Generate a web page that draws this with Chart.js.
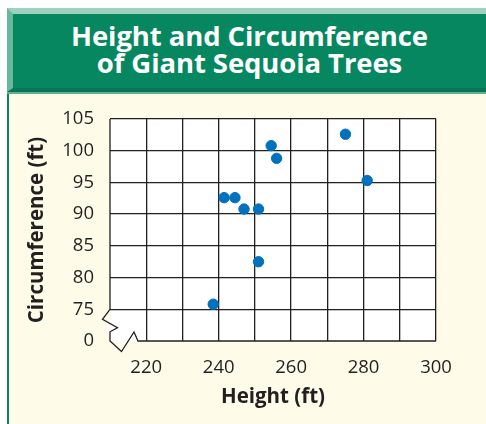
<!DOCTYPE html>
<html>
<head>
<meta charset="utf-8">
<script src="https://cdn.jsdelivr.net/npm/chart.js@4/dist/chart.umd.min.js"></script>
<style>
  html, body { margin: 0; padding: 0; background: #fff; }
  #page { position: relative; width: 486px; height: 424px; overflow: hidden; }
  #panel { position: absolute; left: 7px; top: 94px; right: 0; bottom: 0;
           background: #fffbe9; border-left: 2.5px solid #07875f; }
  #header { position: absolute; left: 7px; top: 8px; width: 473px; height: 74px;
            background: #06875f;
            border-top: 6px solid #9dd0bf; border-left: 6px solid #66b99b;
            border-bottom: 4px solid #0b7553; border-right: 0; }
  #header h1 { margin: 0; padding-top: 8px; font: bold 27.5px/27px "Open Sans", sans-serif;
               color: #fff; text-align: center; letter-spacing: -0.1px; }
  #headLine { position: absolute; left: 7px; top: 92px; width: 479px; height: 2px; background: #5fb394; }
  canvas { position: absolute; left: 0; top: 0; }
</style>
</head>
<body>
<div id="page">
  <div id="panel"></div>
  <div id="header"><h1>Height and Circumference<br>of Giant Sequoia Trees</h1></div>
  <div id="headLine"></div>
  <canvas id="sequoia" width="486" height="424"></canvas>
</div>
<script>
// tree measurements, in feet
const heights = [238.5, 241.5, 244.5, 247, 251, 251, 254.5, 256, 275, 281];
const circumferences = [75.8, 92.6, 92.6, 90.8, 90.8, 82.5, 100.8, 98.8, 102.6, 95.3];

// axis ranges; both axes are broken near the origin
const xMin = 210, xMax = 300, xStep = 10;
const yMin = 70, yMax = 105, yStep = 5;
const xLabelEvery = 20;
const yBreakValue = 75;

const ink = '#231f20';
const font = '"Open Sans", sans-serif';

const points = heights.map((h, i) => ({ x: h, y: circumferences[i] }));

// white plot background plus the axis lines with the zigzag breaks
const brokenAxes = {
    id: 'brokenAxes',
    beforeDraw(chart) {
        const { ctx, chartArea: a } = chart;
        ctx.save();
        ctx.fillStyle = '#fff';
        ctx.fillRect(a.left, a.top, a.right - a.left, a.bottom - a.top);
        ctx.restore();
    },
    beforeDatasetsDraw(chart) {
        const { ctx, chartArea: a, scales } = chart;
        const yb = scales.y.getPixelForValue(yBreakValue);
        const L = a.left, B = a.bottom;
        ctx.save();
        ctx.strokeStyle = ink;
        ctx.lineWidth = 1.3;
        ctx.beginPath();
        ctx.moveTo(L, a.top);
        ctx.lineTo(L, yb);
        ctx.lineTo(L - 7.5, yb + 10);
        ctx.lineTo(L + 7.5, yb + 18.5);
        ctx.lineTo(L, yb + 22.5);
        ctx.lineTo(L, B);
        ctx.lineTo(L + 11.5, B + 10.5);
        ctx.lineTo(L + 24, B - 9);
        ctx.lineTo(L + 28, B);
        ctx.lineTo(a.right, B);
        ctx.stroke();
        ctx.restore();
    }
};

new Chart(document.getElementById('sequoia'), {
    type: 'scatter',
    data: {
        datasets: [{
            data: points,
            backgroundColor: '#0071bc',
            borderColor: '#0071bc',
            pointRadius: 5.2,
            pointHoverRadius: 5.2
        }]
    },
    options: {
        responsive: false,
        animation: false,
        events: [],
        layout: { padding: { top: 119, right: 50, bottom: 10, left: 10 } },
        plugins: { legend: { display: false }, tooltip: { enabled: false } },
        scales: {
            x: {
                type: 'linear',
                min: xMin, max: xMax,
                afterFit(scale) { scale.height = 73; },
                border: { display: false },
                grid: {
                    drawTicks: false,
                    lineWidth: 1.3,
                    color: ctx => ctx.tick && ctx.tick.value === xMin ? 'rgba(0,0,0,0)' : ink
                },
                ticks: {
                    stepSize: xStep,
                    padding: 16,
                    maxRotation: 0,
                    minRotation: 0,
                    autoSkip: false,
                    color: ink,
                    font: { family: font, size: 18.5 },
                    callback: v => (v % xLabelEvery === 0 && v !== xMin) ? String(v) : ''
                },
                title: {
                    display: true,
                    text: 'Height (ft)',
                    color: ink,
                    padding: { top: 0, bottom: 5 },
                    font: { family: font, size: 20.5, weight: 'bold' }
                }
            },
            y: {
                type: 'linear',
                min: yMin, max: yMax,
                afterFit(scale) { scale.width = 100; },
                border: { display: false },
                grid: {
                    drawTicks: false,
                    lineWidth: 1.3,
                    color: ctx => ctx.tick && ctx.tick.value === yMin ? 'rgba(0,0,0,0)' : ink
                },
                ticks: {
                    stepSize: yStep,
                    padding: 16,
                    color: ink,
                    font: { family: font, size: 18.5 },
                    callback: v => v === yMin ? '0' : String(v)
                },
                title: {
                    display: true,
                    text: 'Circumference (ft)',
                    color: ink,
                    padding: { top: 14.5, bottom: 0 },
                    font: { family: font, size: 20.5, weight: 'bold' }
                }
            }
        }
    },
    plugins: [brokenAxes]
});
</script>
</body>
</html>
